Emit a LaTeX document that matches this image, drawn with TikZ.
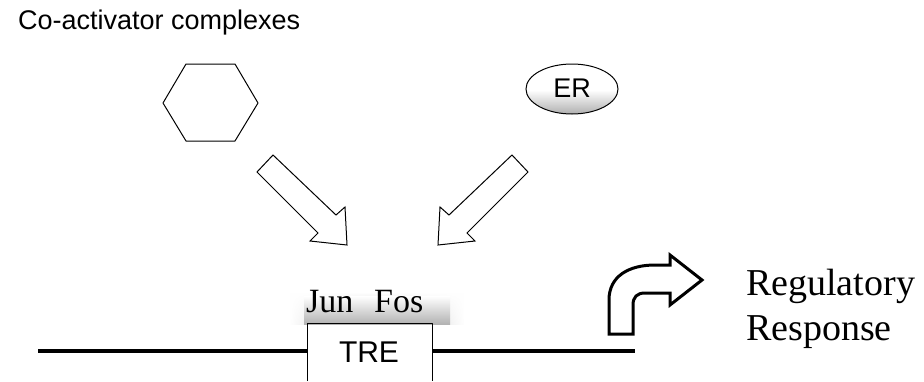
\documentclass[tikz,border=0pt]{standalone}
\usepackage{fontspec}
\setmainfont{Liberation Serif}
\newfontfamily\arialf{Liberation Sans}
\usetikzlibrary{shapes.geometric,fadings}
\tikzfading[name=sidefade, left color=transparent!100, right color=transparent!100, middle color=transparent!0]
\begin{document}
\begin{tikzpicture}[x=1pt,y=-1pt,
  thinline/.style={draw=black, line width=1pt, line join=round},
  blockarrow/.style={draw=black, line width=1pt, fill=white, line join=miter},
  dnaline/.style={draw=black, line width=3.5pt},
  sanslabel/.style={font=\arialf\fontsize{27}{30}\selectfont, inner sep=0pt},
  seriflabel/.style={font=\fontsize{34}{38}\selectfont, inner sep=0pt},
  biglabel/.style={font=\fontsize{38}{45}\selectfont, inner sep=0pt},
  stipple/.style={top color=white, bottom color=gray!60},
]
\useasboundingbox (0,0) rectangle (924,381);
\fill[white] (0,0) rectangle (924,381);

% title
\node[font=\arialf\fontsize{27}{30}\selectfont, inner sep=0pt, anchor=base west] (title) at (18,29) {Co-activator complexes};

% hexagon
\draw[thinline] (163,103) coordinate (h1) -- (186,64) -- (235,64) -- (258,103) -- (235,141) -- (186,141) -- cycle;

% ER ellipse
\begin{scope}
\clip (572,89) ellipse [x radius=46, y radius=25];
\shade[stipple, bottom color=gray!65] (520,90) rectangle (625,115);
\end{scope}
\node[ellipse, draw=black, line width=1pt, minimum width=92, minimum height=50, inner sep=0pt] (erbox) at (572,89) {};
\node[sanslabel] (er) at (572,88) {ER};

% block arrows
\draw[blockarrow] (273,155) -- (336,215) -- (345,207) -- (347,245) -- (310,241) -- (318,233) -- (257,172) -- cycle;
\draw[blockarrow] (512,155) -- (449,215) -- (440,207) -- (438,245) -- (475,241) -- (467,233) -- (528,172) -- cycle;

% Jun Fos stipple band
\shade[stipple, path fading=sidefade] (290,292) rectangle (464,324);
\shade[stipple] (304,296) rectangle (450,324);
\node[seriflabel, anchor=base west] (jun) at (306,312) {Jun};
\node[seriflabel, anchor=base west] (fos) at (374,312) {Fos};

% TRE box
\coordinate (boxbl) at (307,381);
\coordinate (boxtl) at (307,323);
\coordinate (boxtr) at (432,323);
\coordinate (boxbr) at (432,381);
\draw[thinline] (boxbl) -- (boxtl) -- (boxtr) -- (boxbr);
\node[font=\arialf\fontsize{30}{34}\selectfont, inner sep=0pt] (tre) at (369,352) {TRE};

% DNA line
\coordinate (dnal) at (38,351);
\coordinate (dnam1) at (307,351);
\coordinate (dnam2) at (432,351);
\coordinate (dnar) at (635,351);
\draw[dnaline] (dnal) -- (dnam1);
\draw[dnaline] (dnam2) -- (dnar);

% curved arrow
\draw[line width=3pt, line join=miter, fill=white] (609,334) -- (609,300) .. controls (609,276) and (629,265) .. (655,265) -- (670,265) -- (670,255) -- (702,280) -- (670,305) -- (670,293) -- (645,293) .. controls (637,293) and (633,297) .. (633,305) -- (633,334) -- cycle;

% Regulatory Response
\node[biglabel, anchor=base west] (reg) at (746,295) {Regulatory};
\node[biglabel, anchor=base west] (resp) at (746,340) {Response};
\end{tikzpicture}
\end{document}
